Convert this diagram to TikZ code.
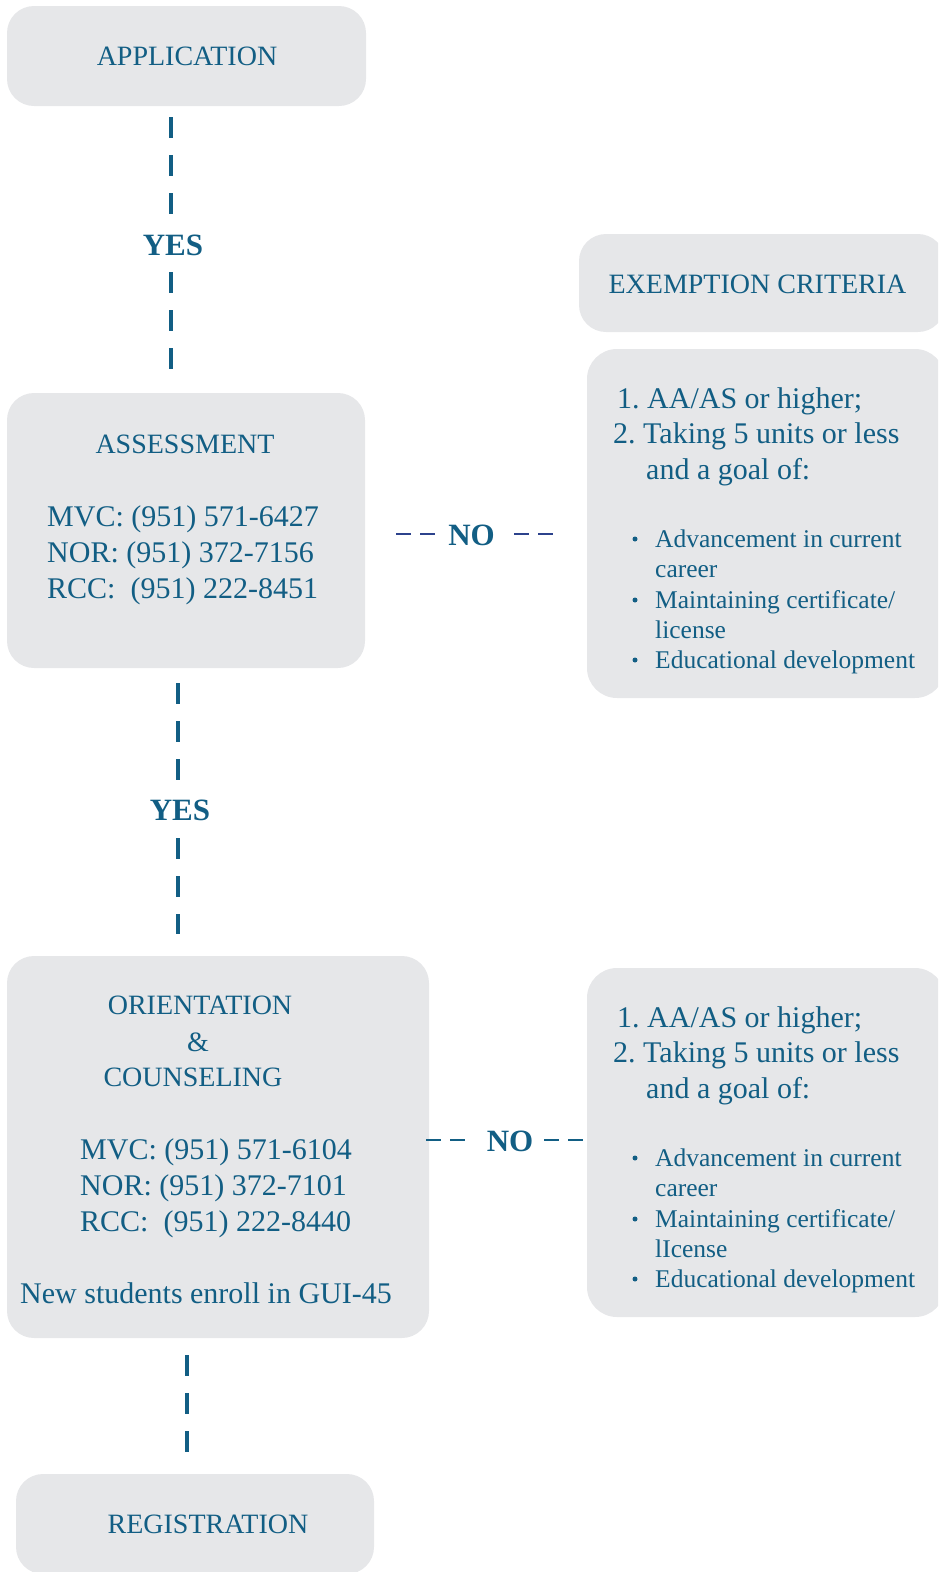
\documentclass[tikz,border=0pt]{standalone}
\usepackage{fontspec}
\setmainfont{Liberation Serif}
\definecolor{ink}{RGB}{18,94,132}
\definecolor{navy}{RGB}{44,66,140}
\definecolor{boxfill}{RGB}{230,231,233}
\begin{document}
\begin{tikzpicture}[x=1pt,y=-1pt,
  box/.style={fill=boxfill, rounded corners=27pt, inner sep=0pt, draw=none},
  txt/.style={text=ink, inner sep=0pt},
  head/.style={txt, anchor=base, font=\fontsize{28}{34}\selectfont},
  phone/.style={txt, anchor=base west, font=\fontsize{30}{36}\selectfont},
  crit/.style={txt, anchor=base west, font=\fontsize{30}{36}\selectfont},
  bul/.style={txt, anchor=base west, font=\fontsize{25.5}{30}\selectfont},
  dot/.style={circle, fill=ink, inner sep=0pt, minimum size=5pt},
  yes/.style={txt, anchor=base, font=\fontsize{31}{36}\selectfont\bfseries},
  vdash/.style={draw=ink, line width=3.5pt, dash pattern=on 21pt off 17pt},
  hdash/.style={line width=2pt, dash pattern=on 15pt off 9pt}]
\useasboundingbox (0,0) rectangle (938,1572);
\clip (0,0) rectangle (938,1572);

% boxes
\node[box, minimum width=359pt, minimum height=100pt] (app) at (186.5,56) {};
\node[box, minimum width=358pt, minimum height=275pt] (ass) at (186,530.5) {};
\node[box, minimum width=366pt, minimum height=98pt] (exm) at (762,283) {};
\node[box, rounded corners=30pt, minimum width=358pt, minimum height=349pt] (crit1) at (766,523.5) {};
\node[box, minimum width=422pt, minimum height=382pt] (ori) at (218,1147) {};
\node[box, rounded corners=30pt, minimum width=358pt, minimum height=349pt] (crit2) at (766,1142.5) {};
\node[box, minimum width=358pt, minimum height=100pt] (reg) at (195,1524) {};

% box texts
\node[head] (tapp) at (187,65) {APPLICATION};
\node[head] (tass) at (185,453) {ASSESSMENT};
\node[phone] (pa1) at (47,526) {MVC: (951) 571-6427};
\node[phone] (pa2) at (47,562) {NOR: (951) 372-7156};
\node[phone] (pa3) at (47,598) {RCC:\ \ (951) 222-8451};
\node[head] (texm) at (757.5,293) {EXEMPTION CRITERIA};

\node[head] (tori1) at (200,1014) {ORIENTATION};
\node[head] (tori2) at (198,1051) {\&};
\node[head] (tori3) at (193,1086) {COUNSELING};
\node[phone] (po1) at (80,1159) {MVC: (951) 571-6104};
\node[phone] (po2) at (80,1195) {NOR: (951) 372-7101};
\node[phone] (po3) at (80,1231) {RCC:\ \ (951) 222-8440};
\node[phone] (pnew) at (20,1303) {New students enroll in GUI-45};
\node[head] (treg) at (208,1533) {REGISTRATION};

% criteria 1
\node[crit] (a1) at (617,408) {1.\ AA/AS or higher;};
\node[crit] (a2) at (613,443) {2.\ Taking 5 units or less};
\node[crit] (a3) at (646,479) {and a goal of:};
\node[dot] (ad1) at (635,539) {};
\node[bul] (a4) at (655,547) {Advancement in current};
\node[bul] (a5) at (655,577) {career};
\node[dot] (ad2) at (635,600) {};
\node[bul] (a6) at (655,608) {Maintaining certificate/};
\node[bul] (a7) at (655,638) {license};
\node[dot] (ad3) at (635,660) {};
\node[bul] (a8) at (655,668) {Educational development};

% criteria 2
\node[crit] (b1) at (617,1027) {1.\ AA/AS or higher;};
\node[crit] (b2) at (613,1062) {2.\ Taking 5 units or less};
\node[crit] (b3) at (646,1098) {and a goal of:};
\node[dot] (bd1) at (635,1158) {};
\node[bul] (b4) at (655,1166) {Advancement in current};
\node[bul] (b5) at (655,1196) {career};
\node[dot] (bd2) at (635,1219) {};
\node[bul] (b6) at (655,1227) {Maintaining certificate/};
\node[bul] (b7) at (655,1257) {lIcense};
\node[dot] (bd3) at (635,1279) {};
\node[bul] (b8) at (655,1287) {Educational development};

% vertical connectors
\coordinate (c1a) at (171,117);
\coordinate (c1b) at (171,215);
\node[yes] (yes1) at (173,255) {YES};
\coordinate (c1c) at (171,272);
\coordinate (c1d) at (171,369);
\draw[vdash] (c1a) -- (c1b);
\draw[vdash] (c1c) -- (c1d);

\coordinate (c2a) at (178,683);
\coordinate (c2b) at (178,781);
\node[yes] (yes2) at (180,820) {YES};
\coordinate (c2c) at (178,838);
\coordinate (c2d) at (178,934);
\draw[vdash] (c2a) -- (c2b);
\draw[vdash] (c2c) -- (c2d);

\coordinate (c3a) at (187,1355);
\coordinate (c3b) at (187,1453);
\draw[vdash] (c3a) -- (c3b);

% horizontal NO connectors
\coordinate (n1a) at (396,534);
\coordinate (n1b) at (435,534);
\node[yes] (no1) at (471.5,545) {NO};
\coordinate (n1c) at (514,534);
\coordinate (n1d) at (553,534);
\draw[hdash, draw=navy] (n1a) -- (n1b);
\draw[hdash, draw=navy] (n1c) -- (n1d);

\coordinate (n2a) at (426,1140);
\coordinate (n2b) at (466,1140);
\node[yes] (no2) at (510,1151) {NO};
\coordinate (n2c) at (544,1140);
\coordinate (n2d) at (585,1140);
\draw[hdash, draw=ink] (n2a) -- (n2b);
\draw[hdash, draw=ink] (n2c) -- (n2d);
\end{tikzpicture}
\end{document}
